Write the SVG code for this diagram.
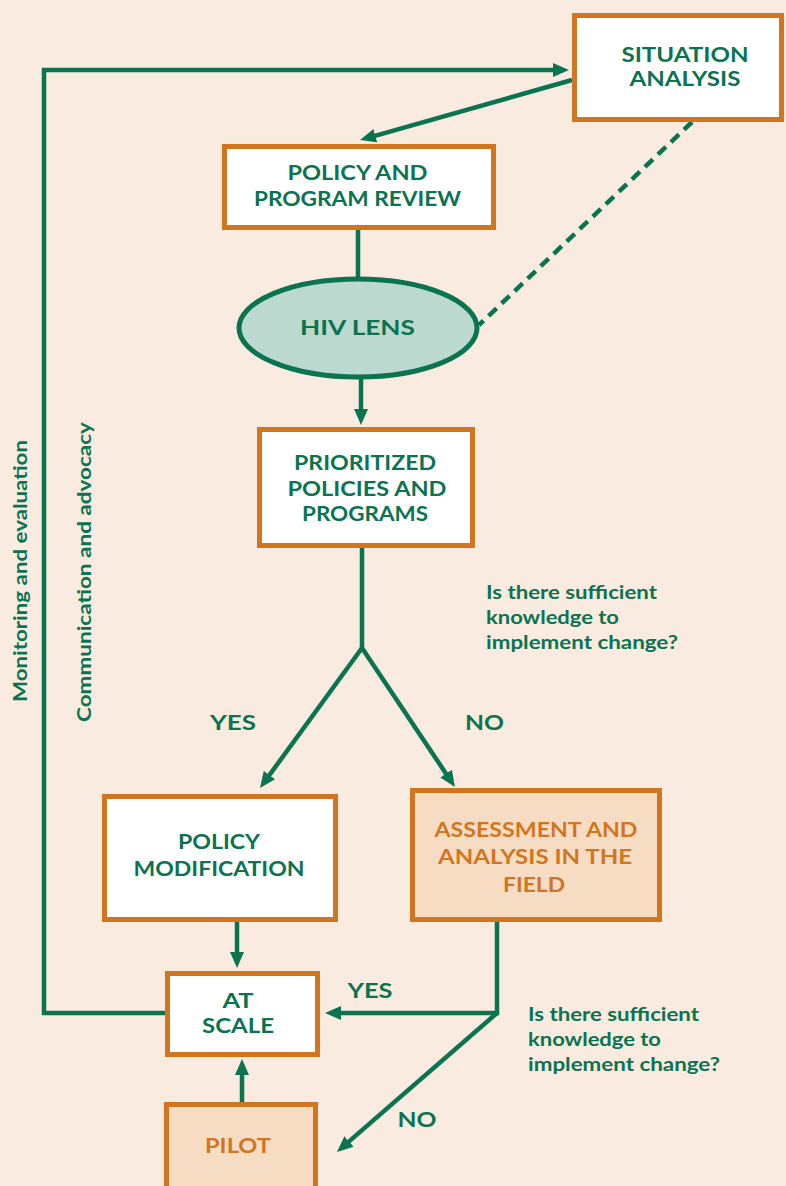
<svg xmlns="http://www.w3.org/2000/svg" width="786" height="1186" viewBox="0 0 786 1186">
<style>
.box{fill:#ffffff;stroke:#d2751f;stroke-width:5}
.peach{fill:#f6dcc3;stroke:#d2751f;stroke-width:5}
text{font-family:Lato,"Liberation Sans",sans-serif;font-weight:bold;fill:#0a7350}
.t{font-size:20px;text-anchor:middle}
.o{fill:#d2751f}
.q{font-size:19px}
.v{font-size:18px;text-anchor:middle}
.c{fill:none;stroke:#0a7350;stroke-width:4.5}
</style>
<defs>
<marker id="ah" viewBox="0 0 16 16" markerUnits="userSpaceOnUse" markerWidth="16" markerHeight="16" refX="6" refY="8" orient="auto">
<path d="M0,1 L16,8 L0,15 z" fill="#0a7350"/>
</marker>
</defs>
<rect width="786" height="1186" fill="#f9ebdf"/>
<g id="connectors">
<path class="c" d="M165,1013 H44 V70 H559" marker-end="url(#ah)"/>
<line class="c" x1="572" y1="80" x2="369.6" y2="137.3" marker-end="url(#ah)"/>
<line class="c" x1="358" y1="230" x2="358" y2="279"/>
<line class="c" x1="361" y1="378" x2="361" y2="415" marker-end="url(#ah)"/>
<line class="c" x1="692" y1="122" x2="479" y2="325" stroke-width="5" stroke-dasharray="11,7"/>
<line class="c" x1="362" y1="548" x2="362" y2="648"/>
<line class="c" x1="362" y1="648" x2="265.9" y2="779.9" marker-end="url(#ah)"/>
<line class="c" x1="362" y1="648" x2="449.4" y2="778.7" marker-end="url(#ah)"/>
<line class="c" x1="237" y1="922" x2="237" y2="958" marker-end="url(#ah)"/>
<path class="c" d="M497,922 V1013 H335" marker-end="url(#ah)"/>
<line class="c" x1="497" y1="1013" x2="344.5" y2="1145.4" marker-end="url(#ah)"/>
<line class="c" x1="242" y1="1102" x2="242" y2="1069" marker-end="url(#ah)"/>
</g>
<g id="situation-analysis">
<rect class="box" x="574.5" y="15.5" width="207" height="104"/>
<text class="t" x="685" y="62" textLength="127" lengthAdjust="spacingAndGlyphs">SITUATION</text>
<text class="t" x="685" y="86" textLength="111" lengthAdjust="spacingAndGlyphs">ANALYSIS</text>
</g>
<g id="policy-program-review">
<rect class="box" x="224.5" y="146.5" width="269" height="81"/>
<text class="t" x="357.5" y="180" textLength="140" lengthAdjust="spacingAndGlyphs">POLICY AND</text>
<text class="t" x="357.5" y="206" textLength="207" lengthAdjust="spacingAndGlyphs">PROGRAM REVIEW</text>
</g>
<g id="hiv-lens">
<ellipse cx="358" cy="328" rx="119" ry="49" fill="#bcd9cf" stroke="#0a7350" stroke-width="5"/>
<text class="t" x="357.5" y="335" textLength="115" lengthAdjust="spacingAndGlyphs">HIV LENS</text>
</g>
<g id="prioritized">
<rect class="box" x="259.5" y="429.5" width="213" height="116"/>
<text class="t" x="365" y="470" textLength="142" lengthAdjust="spacingAndGlyphs">PRIORITIZED</text>
<text class="t" x="367" y="496" textLength="159" lengthAdjust="spacingAndGlyphs">POLICIES AND</text>
<text class="t" x="365" y="521" textLength="126" lengthAdjust="spacingAndGlyphs">PROGRAMS</text>
</g>
<g id="question-1">
<text class="q" x="486" y="599" textLength="171" lengthAdjust="spacingAndGlyphs">Is there sufficient</text>
<text class="q" x="486" y="624" textLength="133" lengthAdjust="spacingAndGlyphs">knowledge to</text>
<text class="q" x="486" y="649" textLength="192" lengthAdjust="spacingAndGlyphs">implement change?</text>
</g>
<g id="labels-1">
<text class="t" x="233" y="730" textLength="46" lengthAdjust="spacingAndGlyphs">YES</text>
<text class="t" x="484.5" y="730" textLength="39" lengthAdjust="spacingAndGlyphs">NO</text>
</g>
<g id="policy-modification">
<rect class="box" x="104.5" y="796.5" width="231" height="123"/>
<text class="t" x="219" y="849" textLength="82" lengthAdjust="spacingAndGlyphs">POLICY</text>
<text class="t" x="219" y="876" textLength="171" lengthAdjust="spacingAndGlyphs">MODIFICATION</text>
</g>
<g id="assessment">
<rect class="peach" x="412.5" y="790.5" width="247" height="129"/>
<text class="t o" x="536" y="837" textLength="203" lengthAdjust="spacingAndGlyphs">ASSESSMENT AND</text>
<text class="t o" x="535" y="864" textLength="194" lengthAdjust="spacingAndGlyphs">ANALYSIS IN THE</text>
<text class="t o" x="534" y="892" textLength="62" lengthAdjust="spacingAndGlyphs">FIELD</text>
</g>
<g id="at-scale">
<rect class="box" x="167.5" y="973.5" width="150" height="81"/>
<text class="t" x="238" y="1008" textLength="31" lengthAdjust="spacingAndGlyphs">AT</text>
<text class="t" x="238" y="1033" textLength="72" lengthAdjust="spacingAndGlyphs">SCALE</text>
</g>
<g id="pilot">
<rect class="peach" x="166.5" y="1104.5" width="149" height="90"/>
<text class="t o" x="238" y="1153" textLength="66" lengthAdjust="spacingAndGlyphs">PILOT</text>
</g>
<g id="labels-2">
<text class="t" x="370" y="998" textLength="45" lengthAdjust="spacingAndGlyphs">YES</text>
<text class="t" x="417" y="1127" textLength="39" lengthAdjust="spacingAndGlyphs">NO</text>
</g>
<g id="question-2">
<text class="q" x="528" y="1021" textLength="171" lengthAdjust="spacingAndGlyphs">Is there sufficient</text>
<text class="q" x="528" y="1046" textLength="133" lengthAdjust="spacingAndGlyphs">knowledge to</text>
<text class="q" x="528" y="1071" textLength="192" lengthAdjust="spacingAndGlyphs">implement change?</text>
</g>
<g id="side-labels">
<text class="v" transform="translate(27,571) rotate(-90)" textLength="262" lengthAdjust="spacingAndGlyphs">Monitoring and evaluation</text>
<text class="v" transform="translate(91,572) rotate(-90)" textLength="300" lengthAdjust="spacingAndGlyphs">Communication and advocacy</text>
</g>
</svg>
